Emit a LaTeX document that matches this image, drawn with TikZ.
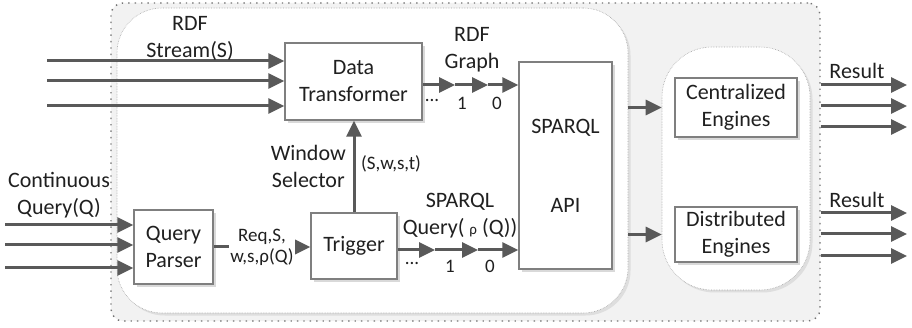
\documentclass[tikz,border=0pt]{standalone}
\usepackage{fontspec}
\setmainfont{Carlito}
\usetikzlibrary{arrows.meta,shadows}
\definecolor{ln}{HTML}{595959}
\definecolor{bx}{HTML}{7F7F7F}
\definecolor{tx}{HTML}{202020}
\begin{document}
\begin{tikzpicture}[x=1pt,y=-1pt,
  big/.style={font=\fontsize{22}{27}\selectfont, text=tx, align=center, inner sep=0pt},
  small/.style={font=\fontsize{19}{21}\selectfont, text=tx, align=center, inner sep=0pt},
  box/.style={draw=bx, line width=1.3pt, fill=white, inner sep=0pt, big,
    drop shadow={shadow xshift=3pt, shadow yshift=-3pt, fill=black!15, opacity=1}},
  arr/.style={draw=ln, line width=3pt, -{Triangle[length=16pt,width=15pt]}},
  outerreg/.style={draw=black!55, fill=black!5, rounded corners=12pt, line width=1.4pt,
    dash pattern=on 1.4pt off 5pt, inner sep=0pt},
  region/.style={draw=black!35, fill=white, line width=0.6pt, densely dotted, inner sep=0pt,
    drop shadow={shadow xshift=2.5pt, shadow yshift=-2.5pt, fill=black!13, opacity=1}}
]
\useasboundingbox (0,0) rectangle (912,328);

% regions
\node[outerreg, minimum width=709pt, minimum height=318pt] (outer) at (465.5,162) {};
\node[region, rounded corners=45pt, minimum width=511pt, minimum height=305pt] (lreg) at (372.5,160.5) {};
\node[region, rounded corners=50pt, minimum width=148pt, minimum height=243pt] (rreg) at (736,168.5) {};

% boxes
\node[box, minimum width=137pt, minimum height=77pt] (dt) at (353.5,81.5) {Data\\Transformer};
\node[box, minimum width=79pt, minimum height=74pt] (qp) at (173.5,247) {Query\\Parser};
\node[box, minimum width=86pt, minimum height=66pt] (tr) at (354,246) {Trigger};
\node[box, minimum width=93pt, minimum height=207pt] (api) at (565.5,165.5) {SPARQL\\[52pt]API};
\node[box, minimum width=122pt, minimum height=59pt] (ce) at (736,107.5) {Centralized\\Engines};
\node[box, minimum width=122pt, minimum height=55pt] (de) at (736,234.5) {Distributed\\Engines};

% inputs
\foreach \y [count=\i] in {61,81,106} {
  \coordinate (s\i) at (47,\y);
  \draw[arr] (s\i) -- (dt.west |- s\i);
}
\foreach \y [count=\i] in {225,245,268} {
  \coordinate (c\i) at (5,\y);
  \draw[arr] (c\i) -- (qp.west |- c\i);
}
\node[big] (rdfs) at (190,38) {RDF\\Stream(S)};
\node[big] (cq) at (59,195) {Continuous\\Query(Q)};

% parser -> trigger
\draw[arr] (qp.east) -- (tr.west |- qp.east)
  node[midway, small, fill=white, inner sep=1.5pt] (req) {Req,S,\\w,s,ρ(Q)};

% trigger -> data transformer
\draw[arr] (tr.north) -- (dt.south -| tr.north);
\node[big, anchor=east] (ws) at (346,166) {Window\\Selector};
\node[small] (sw) at (391,164) {(S,w,s,t)};

% RDF graph
\coordinate (g1) at (455,85);
\coordinate (g2) at (488,85);
\draw[arr] (dt.east |- g1) -- (g1);
\draw[arr] (g1) -- (g2);
\draw[arr] (g2) -- (api.west |- g2);
\node[big] (rg) at (472,50) {RDF\\Graph};
\node[small] (gd) at (432,101) {...};
\node[small] (g1l) at (462,103) {1};
\node[small] (g0l) at (497,103) {0};

% SPARQL query
\coordinate (q1) at (435,250);
\coordinate (q2) at (478,250);
\draw[arr] (tr.east |- q1) -- (q1);
\draw[arr] (q1) -- (q2);
\draw[arr] (q2) -- (api.west |- q2);
\node[big] (sq) at (460,216) {SPARQL\\Query( {\fontsize{15}{15}\selectfont ρ} (Q))};
\node[small] (qd) at (412,263) {...};
\node[small] (q1l) at (450,266) {1};
\node[small] (q0l) at (490,266) {0};

% to engines
\draw[arr] (lreg.east |- ce) -- (rreg.west |- ce);
\draw[arr] (lreg.east |- de) -- (rreg.west |- de);

% results
\foreach \y [count=\i] in {85,106,127} {
  \coordinate (r\i) at (907,\y);
  \draw[arr] (outer.east |- r\i) -- (r\i);
}
\foreach \y [count=\i] in {213,234,256} {
  \coordinate (t\i) at (907,\y);
  \draw[arr] (outer.east |- t\i) -- (t\i);
}
\node[big] (res1) at (857,71) {Result};
\node[big] (res2) at (857,200) {Result};
\end{tikzpicture}
\end{document}
